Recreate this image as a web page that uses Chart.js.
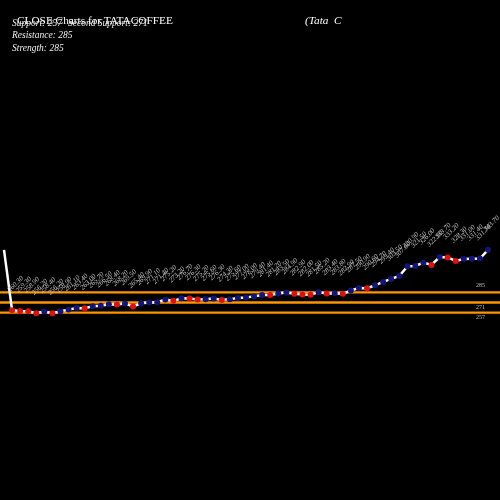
<!DOCTYPE html>
<html>
<head>
<meta charset="utf-8">
<script src="https://cdn.jsdelivr.net/npm/chart.js@4/dist/chart.umd.min.js"></script>
<style>
  html, body { margin: 0; padding: 0; background: #000; }
  #wrap { position: relative; width: 500px; height: 500px; overflow: hidden; }
  canvas { position: absolute; left: 0; top: 0; }
  .hd { position: absolute; color: #fff; font-family: "Liberation Serif", serif; white-space: nowrap; }
  .title { font-size: 11.3px; top: 14px; }
  .info  { font-size: 9.5px; font-style: italic; color: #eee; }
</style>
</head>
<body>
<div id="wrap">
  <canvas id="chart" width="500" height="500"></canvas>
  <div class="hd title" style="left:17px">CLOSE Charts for TATACOFFEE</div>
  <div class="hd title" style="left:305px;font-style:italic">(Tata&nbsp;&nbsp;C</div>
  <div class="hd info" style="left:12px;top:18px">Support: 257</div>
  <div class="hd info" style="left:68px;top:18px">Second Support: 271</div>
  <div class="hd info" style="left:12px;top:30px">Resistance: 285</div>
  <div class="hd info" style="left:12px;top:43px">Strength: 285</div>
</div>
<script>
// ── Data ──────────────────────────────────────────────────────
const CLOSES = [
    343.7, 260.3, 259.3, 258.9, 256.2, 258.4, 256.2, 258.9, 261.1, 263.4,
    263.0, 265.7, 266.5, 268.4, 268.2, 269.5, 265.4, 269.9, 271.1, 271.4,
    275.2, 273.2, 276.7, 276.3, 275.2, 275.6, 276.3, 274.3, 275.6, 277.0,
    278.0, 279.4, 281.4, 281.2, 283.5, 284.9, 282.9, 282.0, 281.5, 285.2,
    283.4, 283.8, 282.9, 287.5, 290.9, 290.6, 294.7, 299.4, 303.5, 307.6,
    320.9, 321.5, 326.0, 322.9, 333.7, 333.2, 328.3, 331.0, 331.4, 331.7,
    343.7
];
const BARS = CLOSES.map((_, i) => String(i + 1));
const LEVELS = [285, 271, 257];          // resistance, second support, support
const LEVEL_LABELS = ['285', '271', '257'];

// ── Point colours: red when close fell, navy when it rose ─────
const pointColors = CLOSES.map((v, i) => i > 0 && v >= CLOSES[i - 1] ? '#14147a' : '#e01010');
const pointRadii  = CLOSES.map((_, i) => i === 0 ? 0 : 3);

// ── Plugins ───────────────────────────────────────────────────
const levelLines = {
    id: 'levelLines',
    beforeDatasetsDraw(chart) {
        const { ctx, scales: { y } } = chart;
        const labelOffset = [-7, 5, 5];
        ctx.save();
        LEVELS.forEach((lv, i) => {
            const py = y.getPixelForValue(lv);
            ctx.strokeStyle = '#ff9500';
            ctx.lineWidth = 2.4;
            ctx.beginPath();
            ctx.moveTo(0, py);
            ctx.lineTo(chart.width, py);
            ctx.stroke();
            ctx.fillStyle = '#bbb';
            ctx.font = '6px "Liberation Serif", serif';
            ctx.textBaseline = 'middle';
            ctx.fillText(LEVEL_LABELS[i], 476, py + labelOffset[i]);
        });
        ctx.restore();
    }
};

const valueLabels = {
    id: 'valueLabels',
    afterDatasetsDraw(chart) {
        const { ctx } = chart;
        const meta = chart.getDatasetMeta(0);
        ctx.save();
        ctx.fillStyle = '#c4c4c4';
        ctx.font = 'italic 7px "Liberation Serif", serif';
        ctx.textBaseline = 'alphabetic';
        meta.data.forEach((pt, i) => {
            if (i === 0) return;
            ctx.save();
            ctx.translate(pt.x - 2, pt.y - 18);
            ctx.rotate(-Math.PI / 4);
            ctx.fillText(CLOSES[i].toFixed(2), 0, 0);
            ctx.restore();
        });
        ctx.restore();
    }
};

// ── Chart ─────────────────────────────────────────────────────
new Chart(document.getElementById('chart'), {
    type: 'line',
    data: {
        labels: BARS,
        datasets: [{
            label: 'Close',
            data: CLOSES,
            borderColor: '#fff',
            borderWidth: 2.5,
            tension: 0,
            pointRadius: pointRadii,
            pointBackgroundColor: pointColors,
            pointBorderWidth: 0,
        }]
    },
    options: {
        responsive: false, animation: false,
        layout: { padding: { left: 4, right: 12, top: 0, bottom: 0 } },
        plugins: { legend: { display: false }, tooltip: { enabled: false }, title: { display: false } },
        scales: {
            x: { display: false, offset: false },
            y: { display: false, min: 3.5, max: 683.5 },
        },
    },
    plugins: [levelLines, valueLabels],
});
</script>
</body>
</html>
